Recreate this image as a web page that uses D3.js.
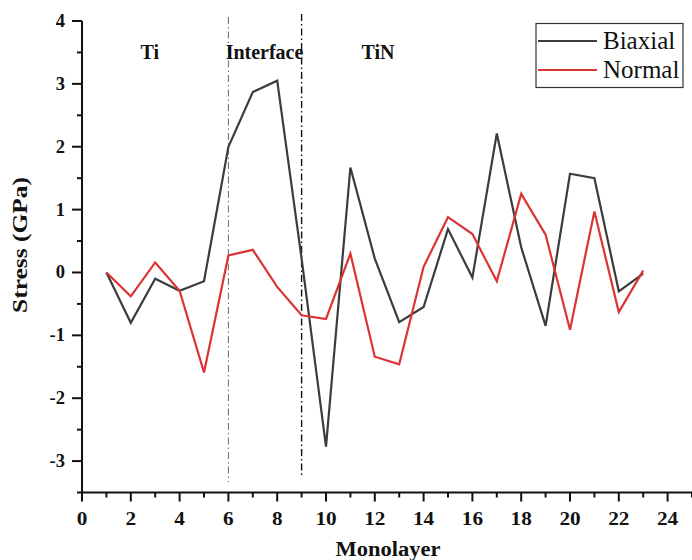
<!DOCTYPE html>
<html><head><meta charset="utf-8">
<script src="https://cdn.jsdelivr.net/npm/d3@7"></script>
<style>
html,body{margin:0;padding:0;background:#fff;}
svg text{font-family:"Liberation Serif","Times New Roman",serif;}
</style></head>
<body><svg id="c" width="692" height="560"></svg>
<script>
const monolayer = [1,2,3,4,5,6,7,8,9,10,11,12,13,14,15,16,17,18,19,20,21,22,23];
const biaxial = [0,-0.8,-0.1,-0.29,-0.14,2.0,2.87,3.05,0.22,-2.77,1.67,0.22,-0.79,-0.55,0.69,-0.08,2.21,0.4,-0.85,1.57,1.5,-0.3,-0.02];
const normal = [0,-0.38,0.16,-0.29,-1.59,0.27,0.36,-0.23,-0.68,-0.74,0.3,-1.34,-1.46,0.09,0.88,0.61,-0.14,1.25,0.6,-0.91,0.97,-0.63,0.03];
const seriesNames = ["Biaxial","Normal"];
const seriesColors = ["#3c3c3c","#dc3434"];
const xTicks = [0,2,4,6,8,10,12,14,16,18,20,22,24];
const yTicks = [-3,-2,-1,0,1,2,3,4];
const regionLabels = ["Ti","Interface","TiN"];
const regionX = [2.78,7.48,12.13];
const boundaries = [6,9];

const svg = d3.select("#c");
const x = d3.scaleLinear().domain([0,25]).range([82,692]);
const y = d3.scaleLinear().domain([-3.5,4]).range([492.5,21]);

// x axis
const gx = svg.append("g").attr("transform",`translate(0,${y(-3.5)})`);
gx.append("line").attr("x1",x(0)).attr("x2",x(25)).attr("stroke","#111").attr("stroke-width",2);
gx.selectAll("line.t").data(d3.range(0,26,1)).join("line").attr("class","t")
  .attr("x1",d=>x(d)).attr("x2",d=>x(d)).attr("y1",0).attr("y2",d=>d%2===0?9:5)
  .attr("stroke","#111").attr("stroke-width",2);
gx.selectAll("text").data(xTicks).join("text")
  .attr("x",d=>x(d)).attr("y",32).attr("text-anchor","middle")
  .attr("font-size",19).attr("font-weight","bold").attr("fill","#111")
  .attr("textLength",d=>String(d).length*10.6).attr("lengthAdjust","spacingAndGlyphs")
  .text(d=>d);

// y axis
const gy = svg.append("g").attr("transform",`translate(${x(0)},0)`);
gy.append("line").attr("y1",y(-3.5)).attr("y2",y(4)).attr("stroke","#111").attr("stroke-width",2);
gy.selectAll("line.t").data(d3.range(-3.5,4.01,0.5)).join("line").attr("class","t")
  .attr("y1",d=>y(d)).attr("y2",d=>y(d)).attr("x1",0).attr("x2",d=>Number.isInteger(d)?-10:-5)
  .attr("stroke","#111").attr("stroke-width",2);
gy.selectAll("text").data(yTicks).join("text")
  .attr("x",-17).attr("y",d=>y(d)+6).attr("text-anchor","end")
  .attr("font-size",18.5).attr("font-weight","bold").attr("fill","#111")
  .text(d=>d);

// boundaries
svg.selectAll("line.b").data(boundaries).join("line").attr("class","b")
  .attr("x1",d=>x(d)).attr("x2",d=>x(d)).attr("y1",(d,i)=>i?14:17).attr("y2",(d,i)=>i?478:482)
  .attr("stroke",(d,i)=>i?"#111":"#666").attr("stroke-width",(d,i)=>i?1.4:1)
  .attr("stroke-dasharray","7,3,1.5,3");

// region labels
svg.selectAll("text.r").data(regionLabels).join("text").attr("class","r")
  .attr("x",(d,i)=>x(regionX[i])).attr("y",59).attr("text-anchor","middle")
  .attr("font-size",20).attr("font-weight","bold").attr("fill","#111").text(d=>d);

// lines
const line = d3.line().x((d,i)=>x(monolayer[i])).y(d=>y(d));
[biaxial, normal].forEach((s,k)=>{
  svg.append("path").datum(s).attr("d",line).attr("fill","none")
    .attr("stroke",seriesColors[k]).attr("stroke-width",2.2).attr("stroke-linejoin","miter");
});

// legend
const lg = svg.append("g");
lg.append("rect").attr("x",536).attr("y",23.5).attr("width",147).attr("height",64)
  .attr("fill","#fff").attr("stroke","#333").attr("stroke-width",1.2);
seriesNames.forEach((n,i)=>{
  lg.append("line").attr("x1",538).attr("x2",597).attr("y1",41+i*29).attr("y2",41+i*29)
    .attr("stroke",seriesColors[i]).attr("stroke-width",2.2);
  lg.append("text").attr("x",603).attr("y",49+i*29).attr("font-size",25).attr("fill","#111").text(n);
});

// axis titles
svg.append("text").attr("x",388).attr("y",556).attr("text-anchor","middle")
  .attr("font-size",20).attr("font-weight","bold").attr("fill","#111")
  .attr("textLength",105).attr("lengthAdjust","spacingAndGlyphs").text("Monolayer");
svg.append("text").attr("transform","translate(27,245) rotate(-90)").attr("text-anchor","middle")
  .attr("font-size",20).attr("font-weight","bold").attr("fill","#111")
  .attr("textLength",136).attr("lengthAdjust","spacingAndGlyphs").text("Stress (GPa)");
</script></body></html>
